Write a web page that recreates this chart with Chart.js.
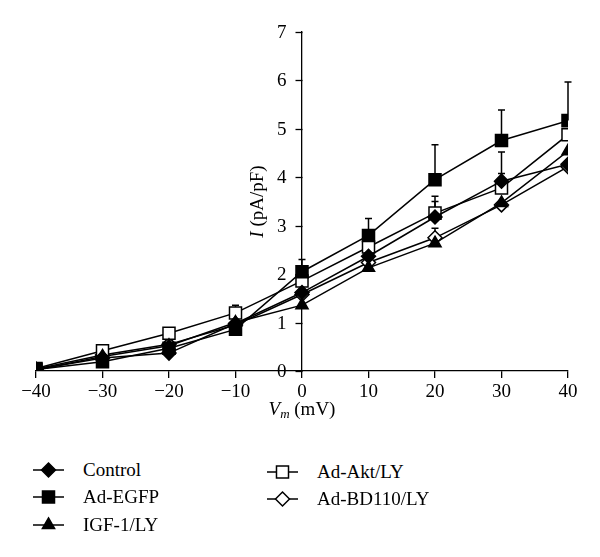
<!DOCTYPE html>
<html>
<head>
<meta charset="utf-8">
<script src="https://cdn.jsdelivr.net/npm/chart.js@4.4.0/dist/chart.umd.min.js"></script>
<style>
  html, body { margin: 0; padding: 0; background: #fff; }
  #wrap { position: relative; width: 600px; height: 557px; }
  #chart { position: absolute; left: 0; top: 0; }
  .item { position: absolute; height: 24px; display: flex; align-items: center; white-space: nowrap;
          font-family: "Liberation Serif", "DejaVu Serif", serif; font-size: 19px; color: #000; }
  .item canvas { margin-right: 19px; }
</style>
</head>
<body>
<div id="wrap">
  <canvas id="chart" width="600" height="440"></canvas>
  <div id="legend"></div>
</div>
<script>
// ------------------------------------------------------------
// Data: current density I (pA/pF) vs membrane potential Vm (mV)
// ------------------------------------------------------------
const voltages = [-40, -30, -20, -10, 0, 10, 20, 30, 40];
const yTicks = [0, 1, 2, 3, 4, 5, 6, 7];

const control   = [0.03, 0.27, 0.37, 0.98, 1.62, 2.37, 3.18, 3.92, 4.27];
const adEgfp    = [0.03, 0.19, 0.47, 0.86, 2.05, 2.80, 3.95, 4.76, 5.17];
const igfLy     = [0.02, 0.30, 0.52, 1.00, 1.36, 2.13, 2.64, 3.47, 4.54];
const adAktLy   = [0.05, 0.42, 0.78, 1.20, 1.86, 2.56, 3.26, 3.78, 4.88];
const adBd110Ly = [0.04, 0.33, 0.55, 0.95, 1.58, 2.24, 2.75, 3.43, 4.22];

// upper error bars (only the visible ones)
const controlErr   = [null, null, null, null, null, null, 0.32, 0.60, null];
const adEgfpErr    = [null, null, null, null, 0.25, 0.35, 0.72, 0.63, 0.80];
const igfLyErr     = [null, null, null, null, null, null, null, null, null];
const adAktLyErr   = [null, 0.05, 0.05, 0.16, null, null, 0.35, 0.30, null];
const adBd110LyErr = [null, null, null, null, null, null, 0.20, null, null];

const FONT = '"Liberation Serif", "DejaVu Serif", serif';

const series = [
  { label: 'Control',     values: control,   err: controlErr,   style: 'rectRot',  fill: '#000', r: 7 },
  { label: 'Ad-EGFP',     values: adEgfp,    err: adEgfpErr,    style: 'rect',     fill: '#000', r: 8.5 },
  { label: 'IGF-1/LY',    values: igfLy,     err: igfLyErr,     style: 'triangle', fill: '#000', r: 7 },
  { label: 'Ad-Akt/LY',   values: adAktLy,   err: adAktLyErr,   style: 'rect',     fill: '#fff', r: 8.5 },
  { label: 'Ad-BD110/LY', values: adBd110Ly, err: adBd110LyErr, style: 'rectRot',  fill: '#fff', r: 7 },
];

// ------------------------------------------------------------
// Plugins
// ------------------------------------------------------------
const errorBars = {
  id: 'errorBars',
  beforeDatasetsDraw(chart) {
    const { ctx, scales: { y } } = chart;
    ctx.save();
    ctx.strokeStyle = '#000';
    ctx.lineWidth = 1.5;
    chart.data.datasets.forEach((ds, i) => {
      const meta = chart.getDatasetMeta(i);
      ds.errUp.forEach((e, j) => {
        if (e == null) return;
        const pt = meta.data[j];
        const top = y.getPixelForValue(ds.data[j].y + e);
        ctx.beginPath();
        ctx.moveTo(pt.x, pt.y);
        ctx.lineTo(pt.x, top);
        ctx.moveTo(pt.x - 3.5, top);
        ctx.lineTo(pt.x + 3.5, top);
        ctx.stroke();
      });
    });
    ctx.restore();
  },
};

// y axis sits at x = 0, so its tick marks and labels are drawn here (left of the line)
const yAxisTicks = {
  id: 'yAxisTicks',
  afterDraw(chart) {
    const { ctx, scales: { x, y } } = chart;
    const ax = Math.round(x.getPixelForValue(0)) + 0.5;
    ctx.save();
    ctx.strokeStyle = '#000';
    ctx.lineWidth = 1.3;
    ctx.fillStyle = '#000';
    ctx.font = `19px ${FONT}`;
    ctx.textAlign = 'right';
    ctx.textBaseline = 'middle';
    y.ticks.forEach(t => {
      const py = Math.round(y.getPixelForValue(t.value)) + 0.5;
      ctx.beginPath();
      ctx.moveTo(ax - 7, py);
      ctx.lineTo(ax, py);
      ctx.stroke();
      ctx.fillText(String(t.value), ax - 16, py + 1);
    });
    ctx.restore();
  },
};

const axisTitles = {
  id: 'axisTitles',
  afterDraw(chart) {
    const { ctx, scales: { x, y } } = chart;
    const big = `19px ${FONT}`;
    const it = `italic 19px ${FONT}`;
    const sub = `italic 13px ${FONT}`;
    ctx.save();
    ctx.fillStyle = '#000';
    ctx.textBaseline = 'middle';
    ctx.textAlign = 'left';

    // y title: "I (pA/pF)"
    ctx.font = it;  const wI = ctx.measureText('I').width;
    ctx.font = big; const wRest = ctx.measureText(' (pA/pF)').width;
    ctx.translate(x.getPixelForValue(0) - 44, y.getPixelForValue(3.5));
    ctx.rotate(-Math.PI / 2);
    let cx = -(wI + wRest) / 2;
    ctx.font = it;  ctx.fillText('I', cx, 0);
    ctx.font = big; ctx.fillText(' (pA/pF)', cx + wI, 0);
    ctx.setTransform(1, 0, 0, 1, 0, 0);

    // x title: "Vm (mV)"
    ctx.font = it;  const wV = ctx.measureText('V').width;
    ctx.font = sub; const wm = ctx.measureText('m').width;
    ctx.font = big; const wmv = ctx.measureText(' (mV)').width;
    const ty = y.bottom + 39;
    cx = x.getPixelForValue(0) - (wV + wm + wmv) / 2;
    ctx.font = it;  ctx.fillText('V', cx, ty);
    ctx.font = sub; ctx.fillText('m', cx + wV, ty + 5);
    ctx.font = big; ctx.fillText(' (mV)', cx + wV + wm, ty);
    ctx.restore();
  },
};

// ------------------------------------------------------------
// Chart
// ------------------------------------------------------------
const axisLine = { display: true, color: '#000', width: 1.3 };

new Chart(document.getElementById('chart'), {
  type: 'line',
  data: {
    datasets: series.map(s => ({
      label: s.label,
      data: voltages.map((v, i) => ({ x: v, y: s.values[i] })),
      errUp: s.err,
      borderColor: '#000',
      borderWidth: 1.5,
      pointStyle: s.style,
      pointRadius: s.r,
      pointBackgroundColor: s.fill,
      pointBorderColor: '#000',
      pointBorderWidth: 1.5,
      tension: 0,
      fill: false,
    })),
  },
  options: {
    responsive: false,
    animation: false,
    layout: { padding: { left: 36, right: 32, top: 32, bottom: 0 } },
    plugins: { legend: { display: false }, tooltip: { enabled: false } },
    scales: {
      x: {
        type: 'linear',
        min: -40, max: 40,
        afterFit(scale) { scale.height = 69; },
        border: axisLine,
        grid: { drawOnChartArea: false, color: '#000', lineWidth: 1.3, tickLength: 7 },
        ticks: {
          stepSize: 10,
          color: '#000',
          padding: 3,
          font: { family: FONT, size: 19 },
          callback: v => String(v).replace('-', '\u2212'),
        },
      },
      y: {
        type: 'linear',
        position: { x: 0 },
        min: yTicks[0], max: yTicks[yTicks.length - 1],
        border: axisLine,
        grid: { display: false },
        afterBuildTicks(scale) { scale.ticks = yTicks.map(v => ({ value: v })); },
        ticks: { display: false },
      },
    },
  },
  plugins: [errorBars, yAxisTicks, axisTitles],
});

// ------------------------------------------------------------
// Legend (two columns, like the figure)
// ------------------------------------------------------------
const legendSpots = [
  { left: 33, top: 470 }, { left: 33, top: 497 }, { left: 33, top: 525 },
  { left: 267, top: 472 }, { left: 267, top: 499 },
];

function drawMarker(ctx, s, x, y) {
  ctx.fillStyle = s.fill;
  ctx.strokeStyle = '#000';
  ctx.lineWidth = 1.5;
  ctx.beginPath();
  if (s.style === 'rect') {
    const h = s.r * Math.SQRT1_2;
    ctx.rect(x - h, y - h, 2 * h, 2 * h);
  } else if (s.style === 'rectRot') {
    ctx.moveTo(x, y - s.r); ctx.lineTo(x + s.r, y); ctx.lineTo(x, y + s.r); ctx.lineTo(x - s.r, y);
    ctx.closePath();
  } else {
    ctx.moveTo(x, y - s.r); ctx.lineTo(x + s.r * 0.87, y + s.r / 2); ctx.lineTo(x - s.r * 0.87, y + s.r / 2);
    ctx.closePath();
  }
  ctx.fill();
  ctx.stroke();
}

const legendEl = document.getElementById('legend');
series.forEach((s, i) => {
  const item = document.createElement('div');
  item.className = 'item';
  item.style.left = legendSpots[i].left + 'px';
  item.style.top = (legendSpots[i].top - 12) + 'px';
  const c = document.createElement('canvas');
  c.width = 31; c.height = 22;
  const ctx = c.getContext('2d');
  ctx.strokeStyle = '#000';
  ctx.lineWidth = 1.5;
  ctx.beginPath(); ctx.moveTo(0, 11); ctx.lineTo(31, 11); ctx.stroke();
  drawMarker(ctx, s, 15.5, 11);
  item.appendChild(c);
  item.appendChild(document.createTextNode(s.label));
  legendEl.appendChild(item);
});
</script>
</body>
</html>
